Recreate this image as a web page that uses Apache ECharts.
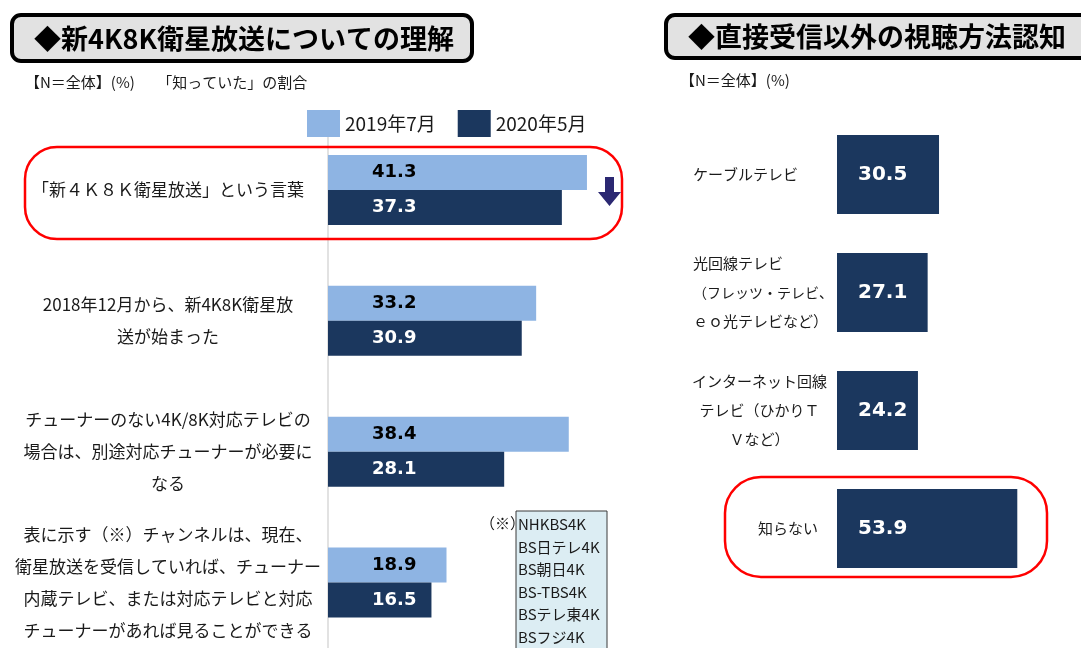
<!DOCTYPE html>
<html>
<head>
<meta charset="utf-8">
<title>新4K8K衛星放送についての理解</title>
<style>
    body {
        margin: 0;
        background: #fff;
    }

    #chart {
        width: 1081px;
        height: 648px;
    }
</style>
<script src="https://cdn.jsdelivr.net/npm/echarts@6/dist/echarts.min.js"></script>
</head>
<body>
<div id="chart"></div>
<script>
    // left panel: understanding of new 4K8K broadcasting
    var categories = [
        '「新４Ｋ８Ｋ衛星放送」という言葉',
        '2018年12月から、新4K8K衛星放\n送が始まった',
        'チューナーのない4K/8K対応テレビの\n場合は、別途対応チューナーが必要に\nなる',
        '表に示す（※）チャンネルは、現在、\n衛星放送を受信していれば、チューナー\n内蔵テレビ、または対応テレビと対応\nチューナーがあれば見ることができる'
    ];
    var seriesNames = ['2019年7月', '2020年5月'];
    var values2019 = [41.3, 33.2, 38.4, 18.9];
    var values2020 = [37.3, 30.9, 28.1, 16.5];

    // right panel: viewing methods other than direct reception
    var methodCategories = [
        'ケーブルテレビ',
        '光回線テレビ\n（フレッツ・テレビ、\nｅｏ光テレビなど）',
        'インターネット回線\nテレビ（ひかりＴ\nＶなど）',
        '知らない'
    ];
    var methodValues = [30.5, 27.1, 24.2, 53.9];

    // (※) channel table
    var channels = ['NHKBS4K', 'BS日テレ4K', 'BS朝日4K', 'BS-TBS4K', 'BSテレ東4K', 'BSフジ4K'];

    var lightBlue = '#8eb4e3';
    var navy = '#1b375e';
    var jp = '"Noto Sans CJK JP", sans-serif';
    var num = '"DejaVu Sans", sans-serif';

    // text alignment of each right-hand label inside its box
    var methodAlign = ['l', 'l', 'c', 'r'];

    var chart = echarts.init(document.getElementById('chart'));

    var option = {
        animation: false,
        textStyle: { fontFamily: jp },
        legend: {
            data: seriesNames,
            left: 302,
            top: 105,
            icon: 'rect',
            itemWidth: 33,
            itemHeight: 27,
            itemGap: 22,
            z: 5,
            textStyle: { fontSize: 19, color: '#1a1a1a', fontFamily: jp }
        },
        grid: [
            { left: 328, top: 124.5, width: 313.5, height: 532 },
            { left: 837, top: 115.5, width: 200.7, height: 472 }
        ],
        xAxis: [
            { gridIndex: 0, type: 'value', min: 0, max: 50, show: false },
            { gridIndex: 1, type: 'value', min: 0, max: 60, show: false }
        ],
        yAxis: [
            {
                gridIndex: 0,
                type: 'category',
                inverse: true,
                data: categories,
                axisLine: { show: true, lineStyle: { color: '#d9d9d9', width: 1.5 } },
                axisTick: { show: false },
                axisLabel: {
                    align: 'center',
                    margin: 160,
                    fontSize: 17,
                    lineHeight: 32,
                    color: '#1a1a1a',
                    fontFamily: jp
                }
            },
            {
                gridIndex: 1,
                type: 'category',
                inverse: true,
                data: methodCategories,
                axisLine: { show: false },
                axisTick: { show: false },
                axisLabel: {
                    align: 'left',
                    margin: 144,
                    fontSize: 15,
                    lineHeight: 29,
                    color: '#1a1a1a',
                    fontFamily: jp,
                    formatter: function (value, index) {
                        var key = methodAlign[index];
                        return value.split('\n').map(function (line) {
                            // long lines get a slightly smaller font so they stay clear of the bar
                            var k = line.length > 9 ? key + 's' : key;
                            return '{' + k + '|' + line + '}';
                        }).join('\n');
                    },
                    rich: {
                        l: { width: 133, align: 'left', fontSize: 15, lineHeight: 29, color: '#1a1a1a' },
                        ls: { width: 133, align: 'left', fontSize: 14, lineHeight: 29, color: '#1a1a1a' },
                        c: { width: 133, align: 'center', fontSize: 15, lineHeight: 29, color: '#1a1a1a' },
                        r: { width: 125, align: 'right', fontSize: 15, lineHeight: 29, color: '#1a1a1a' }
                    }
                }
            }
        ],
        series: [
            {
                name: seriesNames[0],
                type: 'bar',
                xAxisIndex: 0,
                yAxisIndex: 0,
                data: values2019,
                barWidth: 35,
                barGap: '0%',
                itemStyle: { color: lightBlue },
                label: {
                    show: true,
                    position: 'insideLeft',
                    distance: 44,
                    formatter: function (p) { return p.value.toFixed(1); },
                    color: '#000',
                    fontFamily: num,
                    fontWeight: 'bold',
                    fontSize: 18
                }
            },
            {
                name: seriesNames[1],
                type: 'bar',
                xAxisIndex: 0,
                yAxisIndex: 0,
                data: values2020,
                barWidth: 35,
                barGap: '0%',
                itemStyle: { color: navy },
                label: {
                    show: true,
                    position: 'insideLeft',
                    distance: 44,
                    formatter: function (p) { return p.value.toFixed(1); },
                    color: '#fff',
                    fontFamily: num,
                    fontWeight: 'bold',
                    fontSize: 18
                }
            },
            {
                name: 'method',
                type: 'bar',
                xAxisIndex: 1,
                yAxisIndex: 1,
                data: methodValues,
                barWidth: 79,
                itemStyle: { color: navy },
                label: {
                    show: true,
                    position: 'insideLeft',
                    distance: 21,
                    formatter: function (p) { return p.value.toFixed(1); },
                    color: '#fff',
                    fontFamily: num,
                    fontWeight: 'bold',
                    fontSize: 20
                }
            }
        ],
        graphic: [
            // title boxes
            {
                type: 'rect',
                shape: { x: 12, y: 15, width: 460, height: 46, r: 9 },
                style: { fill: '#e2e2e2', stroke: '#000', lineWidth: 4 }
            },
            {
                type: 'text',
                x: 244, y: 39,
                style: {
                    text: '◆新4K8K衛星放送についての理解',
                    font: 'bold 27px ' + jp,
                    fill: '#000',
                    textAlign: 'center',
                    textVerticalAlign: 'middle'
                }
            },
            {
                type: 'rect',
                shape: { x: 666, y: 15, width: 440, height: 43, r: 9 },
                style: { fill: '#e2e2e2', stroke: '#000', lineWidth: 4 }
            },
            {
                type: 'text',
                x: 688, y: 37,
                style: {
                    text: '◆直接受信以外の視聴方法認知',
                    font: 'bold 27px ' + jp,
                    fill: '#000',
                    textAlign: 'left',
                    textVerticalAlign: 'middle'
                }
            },
            // notes
            {
                type: 'text',
                x: 25, y: 82,
                style: {
                    text: '【N＝全体】(%)　　「知っていた」の割合',
                    font: '15px ' + jp,
                    fill: '#1a1a1a',
                    textVerticalAlign: 'middle'
                }
            },
            {
                type: 'text',
                x: 680, y: 80,
                style: {
                    text: '【N＝全体】(%)',
                    font: '15px ' + jp,
                    fill: '#1a1a1a',
                    textVerticalAlign: 'middle'
                }
            },
            // red highlight boxes
            {
                type: 'rect',
                shape: { x: 25, y: 147, width: 597, height: 92, r: 32 },
                style: { fill: 'none', stroke: '#ff0000', lineWidth: 2.5 },
                z: 10
            },
            {
                type: 'rect',
                shape: { x: 725, y: 477, width: 322, height: 100, r: 36 },
                style: { fill: 'none', stroke: '#ff0000', lineWidth: 2.5 },
                z: 10
            },
            // down arrow
            {
                type: 'polygon',
                shape: {
                    points: [[605, 177], [614, 177], [614, 192], [621, 192], [609.5, 206], [598, 192], [605, 192]]
                },
                style: { fill: '#2b2872' },
                z: 10
            },
            // channel table
            {
                type: 'rect',
                shape: { x: 516, y: 511, width: 91, height: 150 },
                style: { fill: '#dcedf3', stroke: '#3a3a3a', lineWidth: 1 }
            },
            {
                type: 'text',
                x: 480, y: 523,
                style: {
                    text: '（※）',
                    font: '15px ' + jp,
                    fill: '#1a1a1a',
                    textVerticalAlign: 'middle'
                }
            },
            {
                type: 'text',
                x: 518, y: 513,
                style: {
                    text: channels.join('\n'),
                    font: '15px ' + jp,
                    lineHeight: 22.6,
                    fill: '#1a1a1a'
                }
            }
        ]
    };

    chart.setOption(option);
</script>
</body>
</html>
